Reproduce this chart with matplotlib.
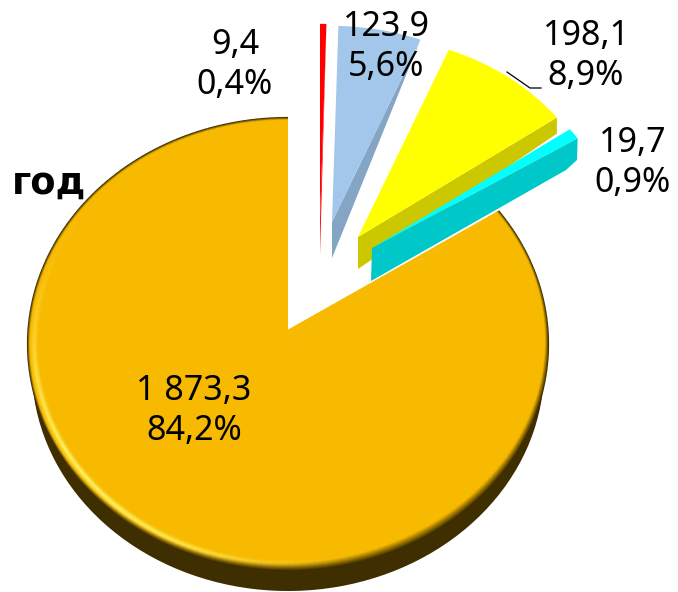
import numpy as np
import matplotlib
matplotlib.use("Agg")
import matplotlib.pyplot as plt
from matplotlib.collections import LineCollection
from matplotlib.patches import Polygon

slice_values = [1873.3, 19.7, 198.1, 123.9, 9.4]
slice_shares = ["84,2%", "0,9%", "8,9%", "5,6%", "0,4%"]
slice_amounts = ["1 873,3", "19,7", "198,1", "123,9", "9,4"]
slice_colors = ["#F8BA00", "#00FFFF", "#FFFF00", "#A3C7EA", "#FF0000"]
side_colors = ["#3F2F00", "#00C8C8", "#CCC800", "#85A5C4", "#FF0000"]

W, H = 678, 592
fig = plt.figure(figsize=(W / 100, H / 100), dpi=100, facecolor="white")

RX, RY_MAIN, RY_SMALL = 260.0, 226.0, 212.0
ax_main = fig.add_axes([0, 0, 1, 1])
ax_small = fig.add_axes([0, 0, 1, 1])


def setup(ax, ry):
    ax.set_aspect("auto")
    ax.set_xlim(0, W / RX)
    ax.set_ylim(0, H / ry)
    ax.axis("off")
    ax.patch.set_alpha(0)


def to_main(px, py):
    return px / RX, (H - py) / RY_MAIN


def to_small(px, py):
    return px / RX, (H - py) / RY_SMALL


# ---------- main slice ----------
main_wedges, _ = ax_main.pie(slice_values, colors=slice_colors, startangle=90,
                             counterclock=True, frame=True)
for w in main_wedges[1:]:
    w.set_visible(False)
face = main_wedges[0]
face.set_center(to_main(288, 344))
face.set_theta2(36.0 + 360)  # drawn perspective nudges the cut edge of the slice
face.set_zorder(5)

# rim (depth) below the face
for k, dy in enumerate(np.linspace(3, 24.4, 8)):
    rim_wedges, _ = ax_main.pie(slice_values, colors=[side_colors[0]] * 5, startangle=90,
                                frame=True)
    for w in rim_wedges[1:]:
        w.set_visible(False)
    rim_wedges[0].set_center(to_main(288, 344 + dy))
    rim_wedges[0].set_radius(0.985)
    rim_wedges[0].set_theta2(36.0 + 360)
    rim_wedges[0].set_zorder(2)

# fill up to the visual apex of the slice
edge_end = (288 + RX * np.cos(np.radians(36)), 344 - RY_MAIN * np.sin(np.radians(36)))
ax_main.add_patch(Polygon([to_main(288, 344), to_main(288, 330), to_main(*edge_end)],
                          closed=True, fc=slice_colors[0], ec=slice_colors[0], lw=0.5, zorder=6))

# bevel on the face edge
dark = np.array(matplotlib.colors.to_rgb("#3A2B00"))
base = np.array(matplotlib.colors.to_rgb(slice_colors[0]))
bright = np.array(matplotlib.colors.to_rgb("#FFF060"))
segs, cols = [], []
angles = np.radians(np.arange(90, 396.01, 1.5))
for t in np.arange(0, 17, 0.75):
    xs = 288 / RX + (1 - t / RX) * np.cos(angles)
    ys = (H - 344) / RY_MAIN + (1 - t / RY_MAIN) * np.sin(angles)
    for i in range(len(angles) - 1):
        lo = angles[i]
        # width of dark fade: wide lower right, thin upper
        dw = 2.5 + 6.5 * max(0, np.cos(lo - np.radians(290))) ** 1.5
        k = np.clip(t / dw, 0, 1)
        c = dark * (1 - k) + base * k
        h = max(0, np.cos(lo - np.radians(218))) ** 3
        g = h * np.exp(-((t - 7) / 2.6) ** 2)
        c = c * (1 - g) + bright * g
        segs.append([(xs[i], ys[i]), (xs[i + 1], ys[i + 1])])
        cols.append(c)
lc = LineCollection(segs, colors=cols, linewidths=1.6, zorder=7, capstyle="butt")
ax_main.add_collection(lc)

# ---------- exploded slices ----------
small_wedges, _ = ax_small.pie(slice_values, colors=slice_colors, startangle=90,
                               counterclock=True, frame=True)
small_wedges[0].set_visible(False)
apexes = {1: (372, 248), 2: (358, 237), 3: (332, 222), 4: (320, 221)}
radii = {1: 0.945, 2: 0.95, 3: 0.925, 4: 0.93}
for i, (ax_px, ay_px) in apexes.items():
    small_wedges[i].set_center(to_small(ax_px, ay_px))
    small_wedges[i].set_radius(radii[i])
    small_wedges[i].set_zorder(4)


def arc_point(i, theta):
    ax_px, ay_px = apexes[i]
    t = np.radians(theta)
    return ax_px + RX * radii[i] * np.cos(t), ay_px - RY_SMALL * radii[i] * np.sin(t)


sides = {
    1: [apexes[1], arc_point(1, small_wedges[1].theta1), (577, 160), (566, 170), (371, 281)],
    2: [apexes[2], arc_point(2, small_wedges[2].theta1),
        (arc_point(2, small_wedges[2].theta1)[0], arc_point(2, small_wedges[2].theta1)[1] + 16), (358, 269)],
    3: [apexes[3], arc_point(3, small_wedges[3].theta1), (332, 258)],
    4: [apexes[4], arc_point(4, small_wedges[4].theta1), (320, 255)],
}
for i, pts in sides.items():
    ax_small.add_patch(Polygon([to_small(*p) for p in pts], closed=True,
                               fc=side_colors[i], ec="none", zorder=3 + (i == 1) * 2))
small_wedges[1].set_zorder(4.5)

setup(ax_main, RY_MAIN)
setup(ax_small, RY_SMALL)

# leader line
ax_small.plot(*zip(*[to_small(507, 72), to_small(530, 88), to_small(541, 88)]),
              color="black", lw=0.9, zorder=8)

# ---------- labels ----------
label_pos = {0: (194, 411), 1: (633, 163), 2: (586, 56), 3: (386, 47), 4: (235, 65)}
font = ["Noto Sans", "DejaVu Sans"]
for i, (x, y) in label_pos.items():
    fig.text(x / W, 1 - y / H, slice_amounts[i] + "\n" + slice_shares[i], ha="center", va="center",
             fontsize=24.5, family=font, color="black", linespacing=1.25, zorder=20)

fig.text(49 / W, 1 - 183 / H, "год", ha="center", va="center", fontsize=26.5,
         fontweight="bold", family="DejaVu Sans", color="black")

fig.savefig("out.png", dpi=100)
